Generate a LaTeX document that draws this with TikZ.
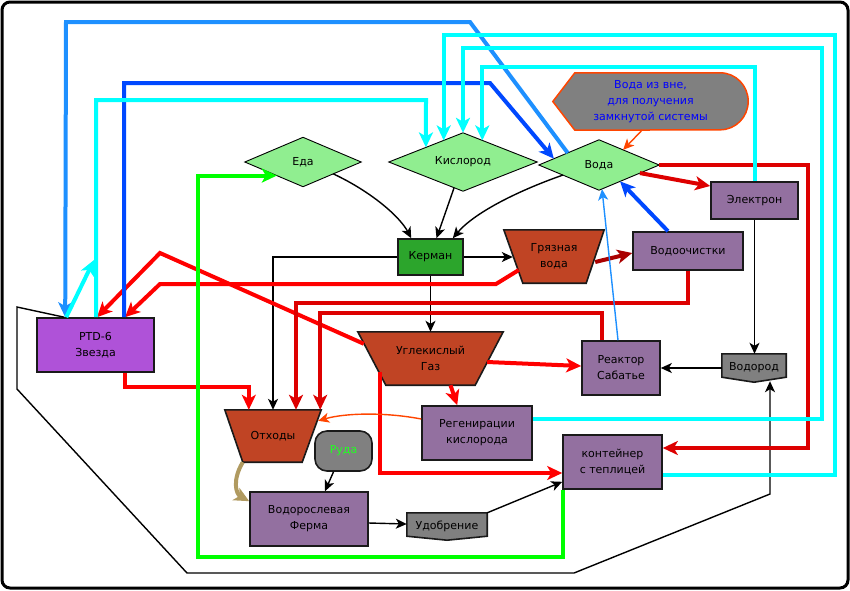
\documentclass[tikz,border=0pt]{standalone}
\usepackage{fontspec}
\setmainfont{DejaVu Sans}
\usetikzlibrary{arrows.meta,calc,backgrounds}
\definecolor{lgreen}{HTML}{90EE90}
\definecolor{kgreen}{HTML}{2CA52C}
\definecolor{brownr}{HTML}{C04424}
\definecolor{purp}{HTML}{9370A0}
\definecolor{ptdc}{HTML}{AF52D8}
\definecolor{grayf}{HTML}{808080}
\definecolor{redA}{HTML}{FF0000}
\definecolor{redB}{HTML}{DD0000}
\definecolor{redC}{HTML}{AA0000}
\definecolor{cyanA}{HTML}{00FFFF}
\definecolor{dblue}{HTML}{1E90FF}
\definecolor{bblue}{HTML}{0048FF}
\definecolor{gline}{HTML}{00FF00}
\definecolor{tanc}{HTML}{B09A60}
\definecolor{ored}{HTML}{FF4500}
\definecolor{edgec}{HTML}{1A1A1A}
\definecolor{rudag}{HTML}{22FF22}
\begin{document}
\begin{tikzpicture}[x=1pt,y=-1pt,
  every node/.style={font=\fontsize{11}{16}\selectfont},
  lbl/.style={rectangle,align=center,inner sep=0pt},
  box/.style={rectangle,draw=edgec,line width=1.6pt,fill=purp,align=center,inner sep=0pt},
  diash/.style={draw=black,line width=0.9pt,fill=lgreen},
  trap/.style={draw=edgec,line width=1.6pt,fill=brownr},
  flagsh/.style={draw=edgec,line width=1.6pt,fill=grayf},
  thinar/.style={line width=1.4pt,-{Stealth[length=11pt,width=10pt,inset=3pt]}},
  thickar/.style={line width=4pt,-{Stealth[length=15pt,width=14pt,inset=4pt]}},
  thinline/.style={line width=1.4pt}
]
\useasboundingbox (0,0) rectangle (850,590);
\draw[line width=3pt,rounded corners=8pt] (2,2) rectangle (848,588);

% nodes
\node[lbl,minimum width=116,minimum height=49] (eda) at (303,162) {Еда};
\node[lbl,minimum width=148,minimum height=58] (kisl) at (463,162) {Кислород};
\node[lbl,minimum width=120,minimum height=50] (voda) at (599,165) {Вода};
\node[lbl,text=blue,minimum width=195,minimum height=57] (vne) at (650.5,101.5) {Вода из вне,\\для получения\\замкнутой системы};
\node[box,fill=kgreen,minimum width=65,minimum height=36] (kerman) at (430.5,257) {Керман};
\node[lbl,minimum width=100,minimum height=53] (gv) at (554,256.5) {Грязная\\вода};
\node[box,minimum width=110,minimum height=38] (vodoch) at (688,251) {Водоочистки};
\node[box,minimum width=87,minimum height=37] (elec) at (754.5,200.5) {Электрон};
\node[box,fill=ptdc,minimum width=117,minimum height=54] (ptd) at (95.5,345) {PTD-6\\Звезда};
\node[lbl,minimum width=145,minimum height=53] (ug) at (430.5,358.5) {Углекислый\\Газ};
\node[box,minimum width=78,minimum height=54] (sab) at (621,368) {Реактор\\Сабатье};
\node[lbl,minimum width=64,minimum height=28] (vodorod) at (754,368) {Водород};
\node[box,minimum width=110,minimum height=54] (regen) at (477,433) {Регенирации\\кислорода};
\node[box,minimum width=99,minimum height=54] (kont) at (612.5,462) {контейнер\\с теплицей};
\node[lbl,minimum width=96,minimum height=52] (othody) at (273,436) {Отходы};
\node[box,fill=grayf,rounded corners=12pt,minimum width=57,minimum height=40,text=rudag] (ruda) at (343.5,451) {Руда};
\node[box,minimum width=118,minimum height=54] (ferma) at (309,519) {Водорослевая\\Ферма};
\node[lbl,minimum width=80,minimum height=27] (udob) at (447,526.5) {Удобрение};

\begin{pgfonlayer}{background}
\filldraw[diash] (eda.west)--(eda.north)--(eda.east)--(eda.south)--cycle;
\filldraw[diash] (kisl.west)--(kisl.north)--(kisl.east)--(kisl.south)--cycle;
\filldraw[diash] (voda.west)--(voda.north)--(voda.east)--(voda.south)--cycle;
\filldraw[fill=grayf,draw=ored,line width=1.5pt] (vne.west) -- ($(vne.north west)+(22,0)$) -- ($(vne.north east)+(-28,0)$) arc[start angle=-90,end angle=90,x radius=28,y radius=28.5] -- ($(vne.south west)+(22,0)$) -- cycle;
\filldraw[trap] (gv.north west) -- (gv.north east) -- ($(gv.south east)+(-18,0)$) -- ($(gv.south west)+(19,0)$) -- cycle;
\filldraw[trap] (ug.north west) -- (ug.north east) -- ($(ug.south east)+(-28,0)$) -- ($(ug.south west)+(28,0)$) -- cycle;
\filldraw[trap] (othody.north west) -- (othody.north east) -- ($(othody.south east)+(-19,0)$) -- ($(othody.south west)+(18,0)$) -- cycle;
\filldraw[flagsh] (vodorod.north west) -- (vodorod.north east) -- ($(vodorod.south east)+(0,-5)$) -- (vodorod.south) -- ($(vodorod.south west)+(0,-5)$) -- cycle;
\filldraw[flagsh] (udob.north west) -- (udob.north east) -- ($(udob.south east)+(0,-4)$) -- (udob.south) -- ($(udob.south west)+(0,-4)$) -- cycle;
\end{pgfonlayer}

% black thin connectors
\draw[thinar] ($(eda.south)!.52!(eda.east)$) .. controls (372,192) and (400,217) .. ($(kerman.north west)+(14,0)$);
\draw[thinar] ($(kisl.south)!.12!(kisl.west)$) -- ($(kerman.north)+(6,0)$);
\draw[thinar] ($(voda.south)!.6!(voda.west)$) .. controls (520,190) and (475,212) .. ($(kerman.north east)+(-11,0)$);
\draw[thinar] (kerman.east) -- ($(gv.west)+(9,0.5)$);
\draw[thinar] (kerman.west) -| (othody.north);
\draw[thinar] (kerman.south) -- (ug.north);
\draw[thinar] (elec.south) -- (elec.south |- vodorod.north);
\draw[thinar] (vodorod.west) -- (sab.east);
\draw[thinar] ($(ferma.east)+(0,4)$) -- ($(udob.west)+(0,-2.5)$);
\draw[thinar] (udob.north east) -- ($(kont.south west)+(0,-8)$);
\draw[thinar] ($(ruda.south)+(-10,0)$) -- ($(ferma.north)+(16,0)$);
\draw[thinar] ($(ptd.north west)+(28,0)$) -- (17,307) -- (17,389) -- (187,573) -- (574,573) -- (770,494) -- ($(vodorod.south)+(16,-1)$);

% red connectors
\draw[thickar,redA] ($(gv.west)+(15,13.5)$) -- (496,284) -- (160,284) -- ($(ptd.north)+(29.5,0)$);
\draw[thickar,redA] ($(ug.north west)+(6,12)$) -- (160,253) -- ($(ptd.north)+(1.5,0)$);
\draw[thickar,redA] ($(ptd.south)+(29.5,0)$) -- ++(0,14) -| ($(othody.north west)+(24,0)$);
\draw[thickar,redB] (vodoch.south) -- ++(0,32) -| ($(othody.north)+(23,0)$);
\draw[thickar,redB] ($(sab.north)+(-19,0)$) -- ++(0,-27) -| ($(othody.north east)+(-1,0)$);
\draw[thickar,redA] ($(ug.east)+(-16,3.5)$) -- ($(sab.west)+(0,-2)$);
\draw[thickar,redA] ($(ug.south)+(20,0)$) -- ($(regen.north west)+(36,0)$);
\draw[thickar,redA] ($(ug.south west)+(22,-13)$) |- ($(kont.west)+(0,11)$);
\draw[thickar,redB] (voda.east) -- (808,165) |- ($(kont.east)+(0,-14)$);
\draw[thickar,redB] ($(voda.east)!.32!(voda.south)$) -- ($(elec.west)+(0,-14.5)$);
\draw[thickar,redC] ($(gv.east)+(-9,5.5)$) -- ($(vodoch.west)+(0,2)$);

% blue connectors
\draw[thickar,dblue] ($(voda.west)!.48!(voda.north)$) -- (470,22) -- (66,22) -- ($(ptd.north west)+(29,0)$);
\draw[thickar,bblue] ($(ptd.north)+(28.5,0)$) -- (124,83) -- (490,83) -- ($(voda.west)!.25!(voda.north)$);
\draw[thickar,bblue] ($(vodoch.north)+(-20,0)$) -- ($(voda.south)!.35!(voda.east)$);
\draw[thinar,dblue] ($(sab.north)+(-3,0)$) -- ($(voda.south)+(3,-1)$);

% cyan connectors
\draw[thickar,cyanA] ($(ptd.north)+(0.5,0)$) -- (96,100) -- (426,100) -- ($(kisl.north)!.5!(kisl.west)$);
\draw[thickar,cyanA] ($(ptd.north west)+(30,0)$) -- (94,260);
\draw[thickar,cyanA] (elec.north) -- ++(0,-114) -| ($(kisl.north)!.26!(kisl.east)$);
\draw[thickar,cyanA] ($(regen.east)+(0,-14)$) -- (822,419) -- (822,48) -| (kisl.north);
\draw[thickar,cyanA] ($(kont.east)+(0,13)$) -- (835,475) -- (835,35) -| ($(kisl.north)!.26!(kisl.west)$);

% green connector
\draw[thickar,gline] ($(kont.south west)+(1,0)$) |- (198,557) |- ($(eda.south)!.45!(eda.west)$);

% tan connector
\draw[thickar,tanc] ($(othody.south west)+(18,0)$) .. controls (232,480) and (236,494) .. ($(ferma.north west)+(0,10)$);

% orangered connectors
\draw[thinar,ored] ($(regen.west)+(0,-14)$) .. controls (385,412) and (345,413) .. ($(othody.north east)+(-3,11)$);
\draw[thinar,ored] ($(vne.south)+(-8.5,0)$) -- ($(voda.north)!.4!(voda.east)$);
\end{tikzpicture}
\end{document}
